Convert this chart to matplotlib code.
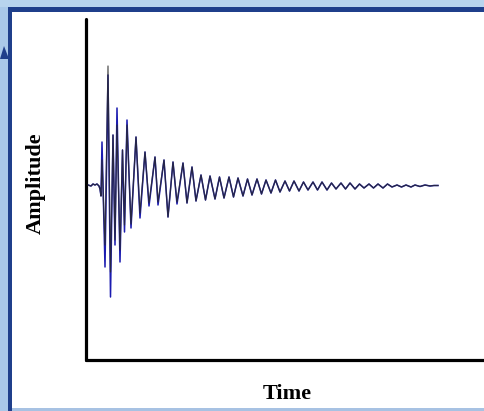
"""Damped oscillation trace (Amplitude vs Time) on a slide-style panel."""

import matplotlib
matplotlib.use("Agg")
import matplotlib.pyplot as plt
from matplotlib.patches import Rectangle, Polygon

# time samples (same grid for both traces)
TIME = [
    2, 5, 7, 9, 11, 13, 14, 15, 16, 19, 22, 24.5, 27, 29, 31, 34, 36.5, 38.5,
    41, 45, 50, 54, 59, 63, 69, 72, 78, 82, 87, 91, 97, 101, 106, 110, 115,
    119.5, 124, 129, 133.5, 138, 143, 147.5, 152, 157, 161.5, 166, 171, 175.5,
    180, 185, 189.5, 194, 199, 203.5, 208, 213, 217.5, 222, 227, 231.5, 236,
    241, 245.5, 250, 255, 259.5, 264, 269, 273.5, 278, 283, 287.5, 292, 297,
    301.5, 306, 311, 315.5, 320, 325, 329, 334, 339, 344, 348, 352,
]

# black trace
AMP_BLACK = [
    0, -1, 1, 0, 1, -1, -4, -11, 25, -60, 119, -87, 50, -55, 60, -65, 35, -40,
    60, -39, 48, -28, 33, -18, 28, -17, 25, -32, 23, -17, 22, -18, 18, -16, 10,
    -15, 9, -14, 8, -13, 8, -12, 7, -11, 6, -10, 6, -9,
    5, -8, 5, -7, 4, -6, 4, -6, 3, -5, 3, -5, 3,
    -5, 2, -4, 2, -4, 2, -4, 1, -3, 1, -3, 1, -3,
    1, -2, 0, -2, 0, -2, 0, -1.5, 0, -1, -0.5, -0.5,
]

# blue trace (mostly hidden under the black one, wider at the early peaks)
AMP_BLUE = [
    0, -1, 1, 0, 1, -1, -4, -11, 43, -82, 110, -112, 50, -60, 77, -77, 35, -47,
    65, -43, 48, -33, 33, -21, 28, -20, 25, -32, 23, -19, 22, -18, 18, -16, 10,
    -15, 9, -14, 8, -13, 8, -12, 7, -11, 6, -10, 6, -9,
    5, -8, 5, -7, 4, -6, 4, -6, 3, -5, 3, -5, 3,
    -5, 2, -4, 2, -4, 2, -4, 1, -3, 1, -3, 1, -3,
    1, -2, 0, -2, 0, -2, 0, -1.5, 0, -1, -0.5, -0.5,
]

W, H = 484, 411


def fx(px):
    return px / W


def fy(py):
    return 1 - py / H


fig = plt.figure(figsize=(W / 100, H / 100), dpi=100, facecolor="#a9c8e9")

# slide frame: light band on top, dark blue border, white panel
fig.patches.append(Rectangle((0, fy(7)), 1, 7 / H, transform=fig.transFigure,
                             facecolor="#b8d4ee", edgecolor="none", zorder=-3))
fig.patches.append(Rectangle((fx(8), 0), 1, fy(7), transform=fig.transFigure,
                             facecolor="#1f3f8b", edgecolor="none", zorder=-2))
fig.patches.append(Rectangle((fx(12), fy(408)), 1, fy(12) - fy(408),
                             transform=fig.transFigure, facecolor="white",
                             edgecolor="none", zorder=-1))
fig.patches.append(Rectangle((fx(12), 0), 1, fy(408), transform=fig.transFigure,
                             facecolor="#a7c2e3", edgecolor="none", zorder=-1))
fig.patches.append(Polygon([(fx(0), fy(59)), (fx(4), fy(46)), (fx(9), fy(59))],
                           closed=True, transform=fig.transFigure,
                           facecolor="#1f3f8b", edgecolor="none", zorder=-1))

ax = fig.add_axes([fx(86), fy(360), 1 - fx(86), fy(19) - fy(360)])
ax.set_facecolor("none")
ax.set_zorder(5)

ax.plot(TIME, AMP_BLUE, color="#1b1bb0", linewidth=1.1, zorder=2)
ax.plot(TIME, AMP_BLACK, color="#2a2a2a", linewidth=0.9, alpha=0.8, zorder=3)

ax.set_xlim(0, 398)
ax.set_ylim(-175, 166)

for side in ("top", "right"):
    ax.spines[side].set_visible(False)
for side in ("left", "bottom"):
    ax.spines[side].set_linewidth(2.3)
    ax.spines[side].set_color("black")
    ax.spines[side].set_capstyle("round")
ax.set_xticks([])
ax.set_yticks([])

fig.text(fx(36), fy(183), "Amplitude", rotation=90, ha="center", va="center",
         fontsize=16, fontweight="bold", family="Liberation Serif")
fig.text(fx(287), fy(394), "Time", ha="center", va="center",
         fontsize=16, fontweight="bold", family="Liberation Serif")

fig.savefig("out.png", dpi=100, facecolor=fig.get_facecolor())
